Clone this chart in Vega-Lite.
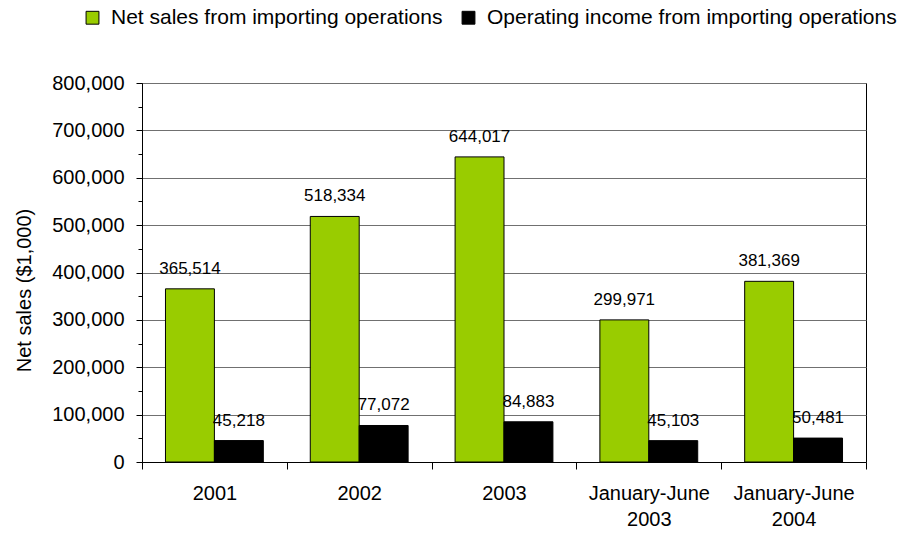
{
  "$schema": "https://vega.github.io/schema/vega-lite/v6.json",
  "width": 724,
  "height": 379,
  "autosize": {"type": "none"},
  "padding": {"left": 142, "top": 83, "right": 37, "bottom": 71},
  "background": "white",
  "config": {
    "font": "Liberation Sans",
    "view": {"stroke": "black", "strokeWidth": 1},
    "axis": {"labelFont": "Liberation Sans", "titleFont": "Liberation Sans", "labelColor": "black", "titleColor": "black", "domainColor": "black", "tickColor": "black"},
    "legend": {"labelFont": "Liberation Sans"}
  },
  "data": {
    "values": [
      {"category": "2001", "series": "Net sales from importing operations", "value": 365514},
      {"category": "2001", "series": "Operating income from importing operations", "value": 45218},
      {"category": "2002", "series": "Net sales from importing operations", "value": 518334},
      {"category": "2002", "series": "Operating income from importing operations", "value": 77072},
      {"category": "2003", "series": "Net sales from importing operations", "value": 644017},
      {"category": "2003", "series": "Operating income from importing operations", "value": 84883},
      {"category": "January-June|2003", "series": "Net sales from importing operations", "value": 299971},
      {"category": "January-June|2003", "series": "Operating income from importing operations", "value": 45103},
      {"category": "January-June|2004", "series": "Net sales from importing operations", "value": 381369},
      {"category": "January-June|2004", "series": "Operating income from importing operations", "value": 50481}
    ]
  },
  "encoding": {
    "x": {
      "field": "category",
      "type": "nominal",
      "sort": null,
      "scale": {"paddingInner": 0, "paddingOuter": 0},
      "axis": {
        "title": null,
        "labelAngle": 0,
        "labelFontSize": 20,
        "labelExpr": "split(datum.label, '|')",
        "labelLineHeight": 26,
        "labelPadding": 14,
        "tickBand": "extent",
        "tickSize": 7,
        "domainWidth": 1,
        "grid": false
      }
    },
    "xOffset": {
      "field": "series",
      "type": "nominal",
      "scale": {"paddingInner": 0, "paddingOuter": 0.48}
    },
    "y": {
      "field": "value",
      "type": "quantitative",
      "scale": {"domain": [0, 800000], "nice": false},
      "axis": {
        "title": "Net sales ($1,000)",
        "titleFontSize": 20,
        "titleFontWeight": "normal",
        "titleX": -118,
        "titleY": 207,
        "titleBaseline": "middle",
        "titleAngle": -90,
        "labelFontSize": 20,
        "labelPadding": 12,
        "values": [0, 50000, 100000, 150000, 200000, 250000, 300000, 350000, 400000, 450000, 500000, 550000, 600000, 650000, 700000, 750000, 800000],
        "labelExpr": "datum.value % 100000 === 0 ? format(datum.value, ',') : ''",
        "tickSize": {"condition": {"test": "datum.value % 100000 === 0", "value": 6}, "value": 4},
        "grid": true,
        "gridColor": "#707070",
        "gridWidth": 1,
        "gridOpacity": {"condition": {"test": "datum.value % 100000 === 0", "value": 1}, "value": 0}
      }
    }
  },
  "layer": [
    {
      "mark": {"type": "bar", "stroke": "black", "strokeWidth": 1},
      "encoding": {
        "color": {
          "field": "series",
          "type": "nominal",
          "scale": {"domain": ["Net sales from importing operations", "Operating income from importing operations"], "range": ["#99CC00", "#000000"]},
          "legend": {
            "title": null,
            "orient": "none",
            "legendX": -60,
            "legendY": -76,
            "direction": "horizontal",
            "padding": 0,
            "symbolType": "square",
            "symbolSize": 165,
            "symbolStrokeColor": "black",
            "symbolStrokeWidth": 1,
            "labelFontSize": 21,
            "labelColor": "black",
            "labelOffset": 8,
            "columnPadding": 15,
            "labelLimit": 600
          }
        }
      }
    },
    {
      "mark": {"type": "text", "baseline": "bottom", "dy": -11, "fontSize": 17, "color": "black", "font": "Liberation Sans"},
      "encoding": {
        "text": {"field": "value", "type": "quantitative", "format": ","}
      }
    }
  ]
}
